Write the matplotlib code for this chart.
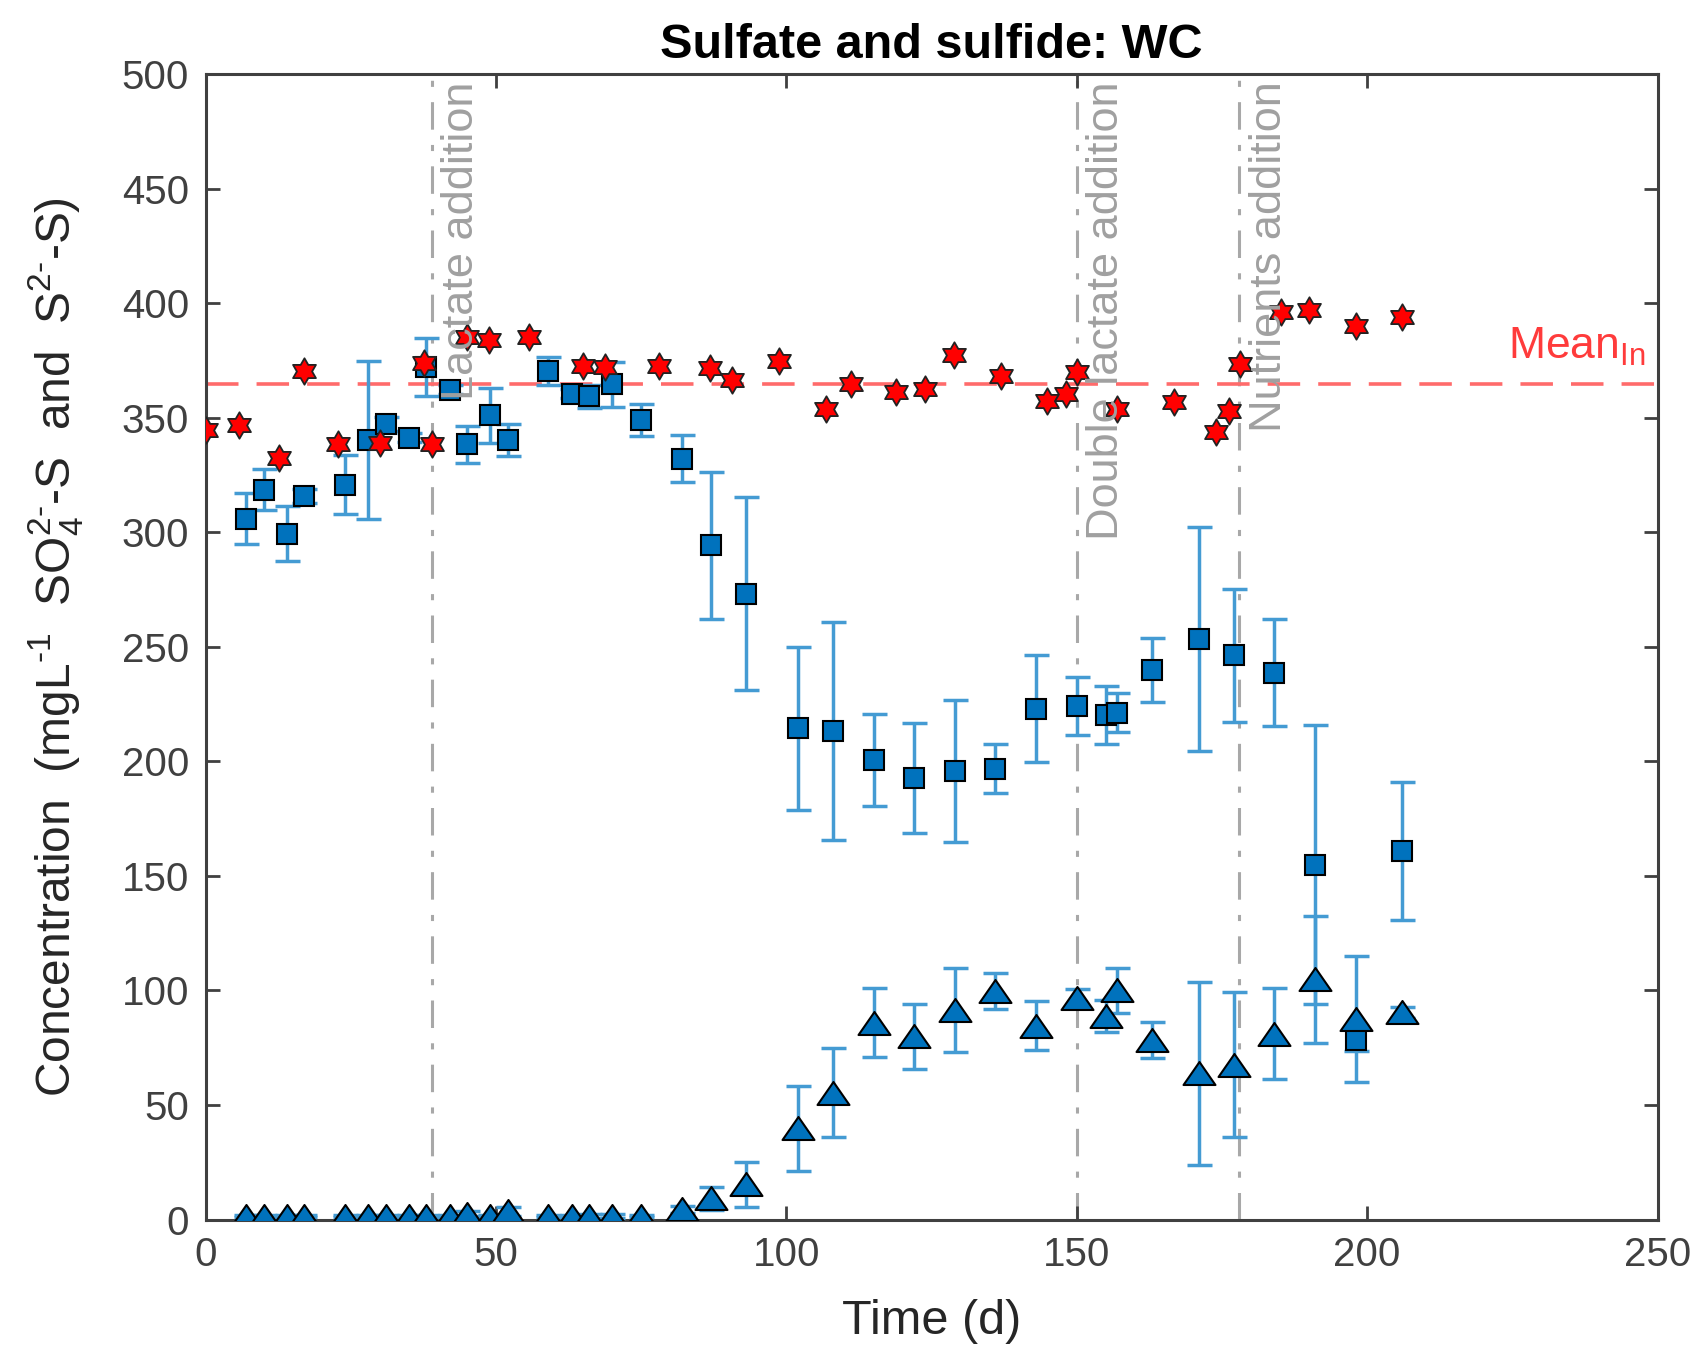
import numpy as np
import matplotlib as mpl
mpl.use('Agg')
import matplotlib.pyplot as plt
from matplotlib.path import Path

plt.rcParams['font.family'] = ['Liberation Sans', 'DejaVu Sans']
plt.rcParams['mathtext.fontset'] = 'custom'
plt.rcParams['mathtext.rm'] = 'Liberation Sans'
plt.rcParams['mathtext.it'] = 'Liberation Sans:italic'
plt.rcParams['mathtext.bf'] = 'Liberation Sans:bold'

# influent sulfate (red stars)
in_days = [0, 5.8, 12.7, 17, 22.7, 30, 37.6, 38.9, 45, 48.8, 55.7, 64.9, 68.7,
           78.1, 86.9, 90.7, 98.8, 106.9, 111.2, 118.8, 123.8, 128.8, 136.9,
           144.9, 148.1, 150, 157, 166.8, 174, 176.2, 178.1, 185.1, 190, 198, 206]
in_sulfate = [344.5, 346.7, 332.6, 370.4, 338.4, 339, 373.9, 338.4, 385.3, 384.1,
              385.3, 372.5, 372.2, 372.5, 371.9, 366.4, 374.7, 354, 364.6, 361.3,
              362.7, 377.3, 368.5, 357.3, 360.3, 370, 354, 356.9, 343.8, 353,
              373.6, 396.2, 396.9, 390, 394]

# sampling days for effluent
days = [7, 10, 14, 17, 24, 28, 31, 35, 38, 42, 45, 49, 52, 59, 63, 66, 70, 75,
        82, 87, 93, 102, 108, 115, 122, 129, 136, 143, 150, 155, 157, 163, 171,
        177, 184, 191, 198, 206]
sulfate = [306, 318.7, 299.5, 315.8, 320.9, 340.2, 347.2, 341.4, 372.2, 362.3,
           338.5, 351.1, 340.5, 370.4, 360.5, 359.4, 364.6, 348.9, 332.2, 294.4,
           273.3, 214.4, 213.4, 200.6, 192.9, 195.9, 196.8, 223.1, 224.2, 220.3,
           221.3, 239.9, 253.4, 246.4, 238.7, 155, 78.4, 160.9]
sulfate_err = [11, 9, 12, 3, 13, 34.5, 3, 2, 12.6, 2, 8, 12, 7, 6, 2, 5, 9.7, 7,
               10.3, 32, 42, 35.6, 47.7, 20, 24, 31, 10.6, 23.5, 12.8, 12.6, 8.6,
               14, 49, 29, 23.3, 61, 5, 30]
sulfide = [1.5, 1.5, 1.5, 1.5, 1.5, 1.5, 1.5, 1.5, 1.5, 1.5, 2.5, 1.5, 3.5, 1.5,
           1.5, 1.5, 1.5, 1.5, 4.4, 9.2, 15.3, 39.8, 55.4, 86, 80, 91.5, 99.8,
           84.7, 96.6, 88.7, 100, 78.3, 63.8, 67.6, 81.2, 104.8, 87.5, 90.5]
sulfide_err = [0.5, 0.5, 0.5, 0.5, 0.5, 0.5, 0.5, 0.5, 0.5, 0.5, 1, 0.5, 2, 0.5,
               0.5, 1, 1, 0.5, 1.5, 5, 10, 18.6, 19.4, 15.2, 14.2, 18.4, 7.8,
               10.7, 4, 7, 9.8, 8, 40, 31.6, 20, 27.7, 27.5, 2.3]

mean_in = 365
events = [39, 150, 178]
event_labels = ['Lactate addition', 'Double lactate addition', 'Nutrients addition']

# marker shapes
ang_out = np.deg2rad(90 + 60 * np.arange(6))
ang_in = ang_out + np.deg2rad(30)
r_in = 1 / np.sqrt(3)
star_v = []
for a, b in zip(ang_out, ang_in):
    star_v.append((np.cos(a), np.sin(a)))
    star_v.append((r_in * np.cos(b), r_in * np.sin(b)))
star_v.append(star_v[0])
hexagram = Path(star_v, [Path.MOVETO] + [Path.LINETO] * 11 + [Path.CLOSEPOLY])
tri = Path([(0, 0.72), (-1, -0.72), (1, -0.72), (0, 0.72)],
           [Path.MOVETO, Path.LINETO, Path.LINETO, Path.CLOSEPOLY])

blue = '#0072BD'
err_blue = '#449bd3'
grey = '#404040'

fig = plt.figure(figsize=(17, 13.52), dpi=100)
ax = fig.add_axes([0.121, 0.098, 0.854, 0.847])

for x, lab in zip(events, event_labels):
    ax.axvline(x, color='#a8a8a8', lw=2.2, ls='-.', dashes=(9, 5, 2, 5), zorder=1)
    ax.text(x + 1.6, 497, lab, rotation=90, ha='left', va='top', fontsize=32.5,
            color='#a0a0a0', zorder=6)

ax.axhline(mean_in, color='#ff6b6b', lw=2.6, dashes=(9, 5), zorder=2)
ax.text(248, 372, r'Mean$_{\mathrm{In}}$', color='#ff3b3b', fontsize=32,
        ha='right', va='bottom')

ax.errorbar(days, sulfate, yerr=sulfate_err, fmt='none', ecolor=err_blue,
            elinewidth=2.5, capsize=9, capthick=2.5, zorder=3)
ax.plot(days, sulfate, ls='none', marker='s', ms=15, mfc=blue, mec='black',
        mew=1.5, zorder=4)
ax.errorbar(days, sulfide, yerr=sulfide_err, fmt='none', ecolor=err_blue,
            elinewidth=2.5, capsize=9, capthick=2.5, zorder=3)
ax.plot(days, sulfide, ls='none', marker=tri, ms=23, mfc=blue, mec='black',
        mew=1.5, zorder=4)
ax.plot(in_days, in_sulfate, ls='none', marker=hexagram, ms=19, mfc='#ff0000',
        mec='#222222', mew=1.3, zorder=5)

ax.set_xlim(0, 250)
ax.set_ylim(0, 500)
ax.set_xticks(np.arange(0, 251, 50))
ax.set_yticks(np.arange(0, 501, 50))
ax.tick_params(direction='in', length=10, width=2, colors=grey, labelsize=29,
               top=True, right=True, pad=12)
for s in ax.spines.values():
    s.set_color(grey)
    s.set_linewidth(2.2)

ax.set_title('Sulfate and sulfide: WC', fontsize=35, fontweight='bold', pad=12)
ax.set_xlabel('Time (d)', fontsize=35, color='#262626', labelpad=18)
ax.set_ylabel(r'Concentration  (mgL$^{\mathrm{\text{-}1}}$  SO$_4^{2\text{-}}$-S  and  S$^{2\text{-}}$-S)',
              fontsize=34.5, color='#262626', labelpad=26)

fig.savefig('out.png', dpi=100)
